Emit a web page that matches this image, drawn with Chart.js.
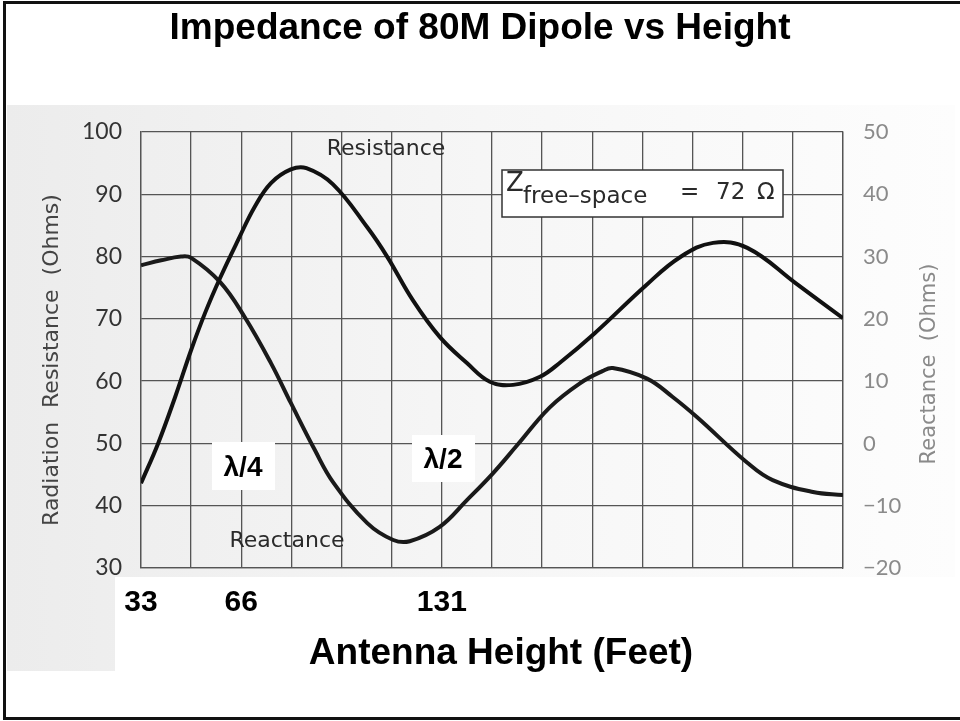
<!DOCTYPE html>
<html>
<head>
<meta charset="utf-8">
<script src="https://cdn.jsdelivr.net/npm/chart.js@4"></script>
<style>
  html, body { margin: 0; padding: 0; background: #fff; }
  #wrap { width: 960px; height: 721px; position: relative; }
</style>
</head>
<body>
<div id="wrap"><canvas id="dipoleChart"></canvas></div>
<script>
// heights in feet (80M wavelength ~262 ft, grid step = lambda/16)
var resistanceHeights = [32.8, 38.4, 44.0, 49.2, 53.8, 58.7, 64.5, 70.0, 75.3, 81.8, 86.9, 95.6, 106.8, 113.3,
  121.7, 130.5, 139.4, 146.9, 154.5, 163.3, 169.9, 181.2, 198.0, 209.1, 219.9, 231.1, 247.0, 262.4];
var resistanceOhms = [43.6, 50, 57.5, 65, 71, 76.6, 82.6, 88, 91.8, 94, 94.2, 91.6, 84.7, 80,
  73, 67.1, 62.9, 59.9, 59.4, 60.7, 63, 67.7, 75.4, 79.9, 82.2, 81.4, 75.7, 70.1];

var reactanceHeights = [32.8, 39.4, 45.9, 49.2, 58.7, 66.7, 75.3, 81.8, 89.7, 95.6, 106.8, 115.3, 120.7,
  130.5, 139.4, 147.9, 155.8, 166.5, 176.5, 183.7, 187.1, 198.3, 206.6, 214.7, 231.1, 239.4, 252.6, 262.4];
var reactanceOhms = [28.6, 29.4, 30, 29.8, 25.9, 20.3, 12.9, 6.5, -1.1, -6.2, -12.8, -15.5, -15.7,
  -13.4, -9.1, -4.8, -0.3, 5.8, 9.7, 11.6, 12.1, 10.4, 7.5, 4.2, -3.1, -5.9, -7.8, -8.3];

var xTickValues = [32.8, 65.6, 131.2];
var xTickLabels = ["33", "66", "131"];

function toPoints(xs, ys) {
  return xs.map(function (x, i) { return { x: x, y: ys[i] }; });
}

var gridColor = "#555";
var tickFont = "Lato, 'Open Sans', sans-serif";
var thin = "'DejaVu Sans', sans-serif";
var bold = "'Liberation Sans', Arial, sans-serif";

var backdrop = {
  id: "backdrop",
  beforeDraw: function (chart) {
    var ctx = chart.ctx;
    ctx.save();
    ctx.fillStyle = "#fff";
    ctx.fillRect(0, 0, chart.width, chart.height);
    // the scanned page behind the plot
    var g = ctx.createLinearGradient(7, 0, 955, 0);
    g.addColorStop(0, "#ececec");
    g.addColorStop(0.5, "#f6f6f6");
    g.addColorStop(1, "#fdfdfd");
    ctx.fillStyle = g;
    ctx.fillRect(7, 105, 948, 566);
    ctx.fillStyle = "#fff";
    ctx.fillRect(115, 577, 845, 95);
    // slide frame
    ctx.strokeStyle = "#111";
    ctx.lineWidth = 3;
    ctx.beginPath();
    ctx.moveTo(962, 2.5);
    ctx.lineTo(4.5, 2.5);
    ctx.lineTo(4.5, 718.5);
    ctx.lineTo(962, 718.5);
    ctx.stroke();
    ctx.restore();
  }
};

var notes = {
  id: "notes",
  afterDraw: function (chart) {
    var ctx = chart.ctx;
    ctx.save();
    ctx.fillStyle = "#2a2a2a";
    ctx.textBaseline = "alphabetic";
    ctx.textAlign = "center";
    ctx.font = "22px " + thin;
    ctx.fillText("Resistance", 386, 155);
    ctx.fillText("Reactance", 287, 547);

    // Z free-space box
    ctx.fillStyle = "#fff";
    ctx.fillRect(502, 170, 281, 47);
    ctx.strokeStyle = "#333";
    ctx.lineWidth = 1.5;
    ctx.strokeRect(502, 170, 281, 47);
    ctx.fillStyle = "#2a2a2a";
    ctx.textAlign = "left";
    ctx.font = "26px " + thin;
    ctx.fillText("Z", 506, 191);
    ctx.font = "23px " + thin;
    ctx.fillText("free\u2013space", 523, 203);
    ctx.fillText("=", 680, 199);
    ctx.fillText("72", 716, 199);
    ctx.fillText("\u03a9", 757, 199);

    // wavelength markers
    ctx.fillStyle = "#fff";
    ctx.fillRect(212, 442, 63, 48);
    ctx.fillRect(412, 435, 63, 47);
    ctx.fillStyle = "#000";
    ctx.textAlign = "center";
    ctx.textBaseline = "middle";
    ctx.font = "bold 28px " + bold;
    ctx.fillText("\u03bb/4", 243, 468);
    ctx.fillText("\u03bb/2", 443, 460);

    // axis titles placed as in the slide
    ctx.font = "bold 37px " + bold;
    ctx.textBaseline = "alphabetic";
    ctx.fillText("Antenna Height (Feet)", 501, 664);

    ctx.save();
    ctx.translate(52, 360);
    ctx.rotate(-Math.PI / 2);
    ctx.fillStyle = "#444";
    ctx.textBaseline = "middle";
    ctx.font = "22px " + thin;
    ctx.fillText("Radiation  Resistance  (Ohms)", 0, 0);
    ctx.restore();

    ctx.translate(930, 364);
    ctx.rotate(-Math.PI / 2);
    ctx.fillStyle = "#8a8a8a";
    ctx.textBaseline = "middle";
    ctx.font = "21px " + thin;
    ctx.fillText("Reactance  (Ohms)", 0, 0);
    ctx.restore();
  }
};

new Chart(document.getElementById("dipoleChart"), {
  type: "line",
  data: {
    datasets: [
      {
        label: "Resistance",
        data: toPoints(resistanceHeights, resistanceOhms),
        yAxisID: "y",
        borderColor: "#111",
        borderWidth: 4,
        pointRadius: 0,
        tension: 0.4,
        fill: false
      },
      {
        label: "Reactance",
        data: toPoints(reactanceHeights, reactanceOhms),
        yAxisID: "y1",
        borderColor: "#1a1a1a",
        borderWidth: 4,
        pointRadius: 0,
        tension: 0.4,
        fill: false
      }
    ]
  },
  options: {
    responsive: true,
    maintainAspectRatio: false,
    animation: false,
    layout: { padding: 0 },
    plugins: {
      legend: { display: false },
      tooltip: { enabled: false },
      title: {
        display: true,
        text: "Impedance of 80M Dipole vs Height",
        color: "#000",
        font: { family: bold, size: 37, weight: "bold", lineHeight: 1.2 },
        padding: { top: 7, bottom: 80.6 }
      }
    },
    scales: {
      x: {
        type: "linear",
        min: 32.8,
        max: 262.4,
        afterFit: function (scale) { scale.height = 153; },
        grid: { color: gridColor, lineWidth: 1.3, drawTicks: false },
        border: { color: gridColor, width: 1.3 },
        ticks: {
          stepSize: 16.4,
          padding: 17,
          color: "#000",
          font: { family: bold, size: 30, weight: "bold" },
          maxRotation: 0,
          autoSkip: false,
          callback: function (v) {
            for (var i = 0; i < xTickValues.length; i++) {
              if (Math.abs(v - xTickValues[i]) < 0.5) return xTickLabels[i];
            }
            return "";
          }
        }
      },
      y: {
        position: "left",
        min: 30,
        max: 100,
        afterFit: function (scale) { scale.width = 141; },
        grid: { color: gridColor, lineWidth: 1.3, drawTicks: false },
        border: { color: gridColor, width: 1.3 },
        ticks: {
          stepSize: 10,
          padding: 19,
          color: "#333",
          font: { family: tickFont, size: 23 }
        }
      },
      y1: {
        position: "right",
        min: -20,
        max: 50,
        afterFit: function (scale) { scale.width = 117; },
        grid: { display: false, drawTicks: false },
        border: { color: gridColor, width: 1.3 },
        ticks: {
          stepSize: 10,
          padding: 20,
          color: "#8a8a8a",
          font: { family: tickFont, size: 22 },
          callback: function (v) { return String(v).replace("-", "\u2212"); }
        }
      }
    }
  },
  plugins: [backdrop, notes]
});
</script>
</body>
</html>
